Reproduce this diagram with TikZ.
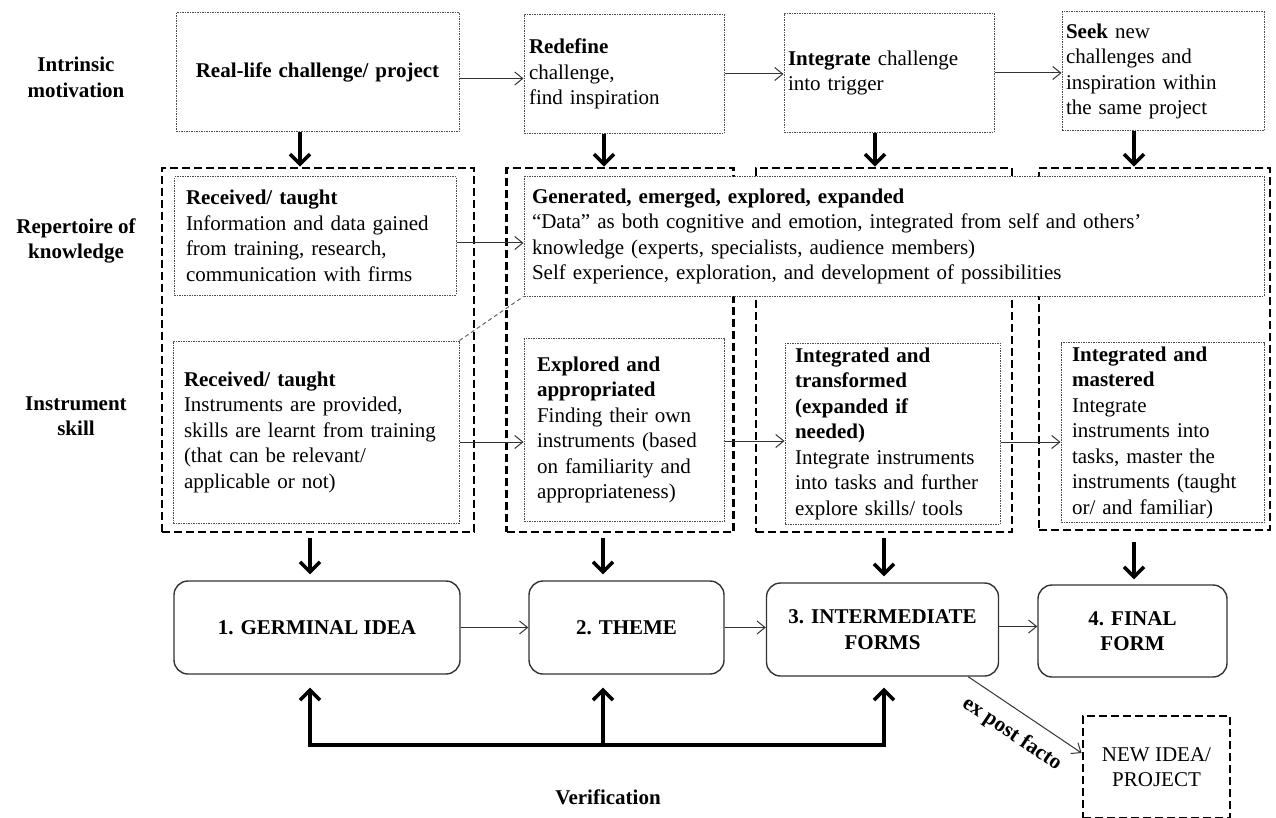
\documentclass[tikz,border=0pt]{standalone}
\usepackage{fontspec}
\setmainfont{Liberation Serif}
\usetikzlibrary{arrows.meta,calc}
\hyphenpenalty=10000
\exhyphenpenalty=10000
\begin{document}
\begin{tikzpicture}[x=1pt,y=-1pt,
  every node/.style={font=\fontsize{21}{25.5}\selectfont, inner sep=0pt},
  dotbox/.style={draw=black!70, line width=1pt, dash pattern=on 1.5pt off 1pt, fill=white, align=left},
  bigbox/.style={draw=black, line width=2.8pt, dash pattern=on 8pt off 4pt},
  rbox/.style={draw=black!80, line width=1.4pt, rounded corners=14pt, font=\fontsize{21}{25.5}\selectfont\bfseries, align=center},
  thinarr/.style={draw=black!80, line width=1pt, -{Straight Barb[length=8pt,width=13pt]}},
  thickarr/.style={draw=black, line width=3.5pt, -{Straight Barb[length=10pt,width=20pt]}},
  lbl/.style={font=\fontsize{21}{25.5}\selectfont\bfseries, align=center}
]
\fill[white] (0,0) rectangle (1276,818);
\useasboundingbox (0,0) rectangle (1276,818);

% left labels
\node[lbl] (lab1) at (76,77.5) {Intrinsic\\motivation};
\node[lbl] (lab2) at (76,241) {Repertoire of\\knowledge};
\node[lbl] (lab3) at (76,416) {Instrument\\skill};

% big dashed columns
\node[bigbox, minimum width=312, minimum height=364] (L1) at (318,350) {};
\node[bigbox, minimum width=227, minimum height=364] (L2) at (620,350) {};
\node[bigbox, minimum width=256, minimum height=364] (L3) at (884,350) {};
\node[bigbox, minimum width=231, minimum height=362] (L4) at (1154.5,349) {};

% top row
\node[dotbox, align=center, minimum width=283, minimum height=119, text width=270, inner xsep=6.5] (A) at (317.5,72.5) {\textbf{Real-life challenge/ project}};
\node[dotbox, minimum width=200, minimum height=119, text width=190, inner xsep=5] (B) at (624,74) {\textbf{Redefine}\\challenge,\\find inspiration};
\node[dotbox, minimum width=210, minimum height=119, text width=202, inner xsep=4] (C) at (889,73) {\textbf{Integrate} challenge\\into trigger};
\node[dotbox, minimum width=202, minimum height=119, text width=194, inner xsep=4] (D) at (1163,71.5) {\textbf{Seek} new\\challenges and\\inspiration within\\the same project};

% knowledge row
\node[dotbox, minimum width=282, minimum height=118, text width=258, inner xsep=12] (K1) at (315,236) {\textbf{Received/ taught}\\Information and data gained\\from training, research,\\communication with firms};
\node[dotbox, minimum width=740, minimum height=119, text width=724, inner xsep=8] (G) at (894,236.5) {\textbf{Generated, emerged, explored, expanded}\\“Data” as both cognitive and emotion, integrated from self and others’\\knowledge (experts, specialists, audience members)\\Self experience, exploration, and development of possibilities};

% instrument row
\node[dotbox, minimum width=286, minimum height=182, text width=264, inner xsep=11] (I1) at (316,432) {\textbf{Received/ taught}\\Instruments are provided,\\skills are learnt from training\\(that can be relevant/\\applicable or not)};
\node[dotbox, minimum width=200, minimum height=183, text width=174, inner xsep=13] (E) at (624,430) {\textbf{Explored and}\\\textbf{appropriated}\\Finding their own\\instruments (based\\on familiarity and\\appropriateness)};
\node[dotbox, minimum width=215, minimum height=181, text width=195, inner xsep=10] (T) at (892.5,433.5) {\textbf{Integrated and}\\\textbf{transformed}\\\textbf{(expanded if}\\\textbf{needed)}\\Integrate instruments\\into tasks and further\\explore skills/ tools};
\node[dotbox, minimum width=203, minimum height=180, text width=181, inner xsep=11] (M) at (1162.5,432.5) {\textbf{Integrated and}\\\textbf{mastered}\\Integrate\\instruments into\\tasks, master the\\instruments (taught\\or/ and familiar)};

% dashed link
\draw[black!60, line width=1pt, dash pattern=on 4pt off 3pt] (I1.north east) -- (G.south west);

% stage boxes
\node[rbox, minimum width=286, minimum height=93] (R1) at (317,627.5) {1. GERMINAL IDEA};
\node[rbox, minimum width=195, minimum height=93] (R2) at (626.5,627.5) {2. THEME};
\node[rbox, minimum width=232, minimum height=93] (R3) at (882.5,629.5) {3. INTERMEDIATE\\FORMS};
\node[rbox, minimum width=189, minimum height=92] (R4) at (1132.5,631) {4. FINAL\\FORM};

\node[bigbox, minimum width=147, minimum height=102, align=center] (N) at (1156.5,767) {NEW IDEA/\\PROJECT};

% connector anchor points
\coordinate (ab) at ($(A.east)+(0,6)$);
\coordinate (ke) at ($(K1.east)+(0,7)$);
\coordinate (ie) at ($(I1.east)+(0,10)$);
\coordinate (ee) at ($(E.east)+(0,11)$);
\coordinate (te) at ($(T.east)+(0,8.5)$);
\coordinate (r3b) at ($(R3.south east)+(-31,0)$);
\coordinate (nw) at ($(N.west)+(0,-14)$);

% thin arrows
\draw[thinarr] (ab) -- (ab -| B.west);
\draw[thinarr] (B.east) -- (B.east -| C.west);
\draw[thinarr] (C.east) -- (C.east -| D.west);
\draw[thinarr] (ke) -- (ke -| G.west);
\draw[thinarr] (ie) -- (ie -| E.west);
\draw[thinarr] (ee) -- (ee -| T.west);
\draw[thinarr] (te) -- (te -| M.west);
\draw[thinarr] (R1.east) -- (R1.east -| R2.west);
\draw[thinarr] (R2.east) -- (R2.east -| R3.west);
\draw[thinarr] ([yshift=3pt]R3.east) -- ([yshift=3pt]R3.east -| R4.west);

% thick arrows top
\draw[thickarr] ([xshift=-17.5pt]A.south) -- ([xshift=-17.5pt]A.south |- L1.north);
\draw[thickarr] ([xshift=-20pt]B.south) -- ([xshift=-20pt]B.south |- L2.north);
\draw[thickarr] ([xshift=-14pt]C.south) -- ([xshift=-14pt]C.south |- L3.north);
\draw[thickarr] ([xshift=-29pt]D.south) -- ([xshift=-29pt]D.south |- L4.north);

% thick arrows bottom
\draw[thickarr, shorten <=5pt, shorten >=6pt] ([xshift=-8pt]L1.south) -- ([xshift=-8pt]L1.south |- R1.north);
\draw[thickarr, shorten <=5pt, shorten >=6pt] ([xshift=-17pt]L2.south) -- ([xshift=-17pt]L2.south |- R2.north);
\draw[thickarr, shorten <=5pt, shorten >=6pt] (L3.south) -- (L3.south |- R3.north);
\draw[thickarr, shorten <=11pt, shorten >=5pt] ([xshift=-20.5pt]L4.south) -- ([xshift=-20.5pt]L4.south |- R4.north);

% verification
\coordinate (v1) at (310,745);
\coordinate (v2) at (603,745);
\coordinate (v3) at (884,745);
\draw[line width=3.5pt, line cap=rect] (v1) -- (v3);
\draw[thickarr, shorten >=13pt] (v1) -- (v1 |- R1.south);
\draw[thickarr, shorten >=13pt] (v2) -- (v2 |- R2.south);
\draw[thickarr, shorten >=11pt] (v3) -- (v3 |- R3.south);
\node[lbl] (ver) at (608,797) {Verification};

% ex post facto
\draw[thinarr] (r3b) -- (nw) node[midway, sloped, below=13pt, font=\fontsize{21.5}{25.5}\selectfont\bfseries] (epf) {ex post facto};
\end{tikzpicture}
\end{document}
